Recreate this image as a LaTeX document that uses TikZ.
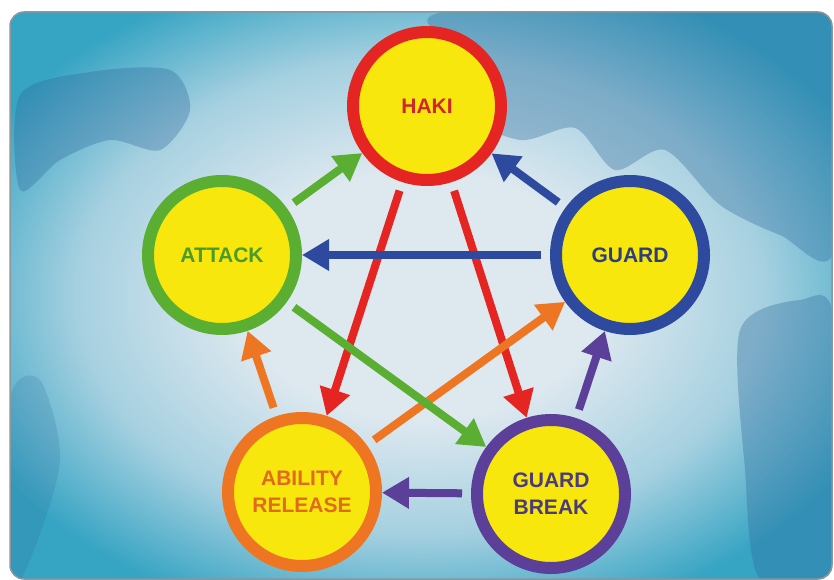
\documentclass[tikz,border=0pt]{standalone}
\usepackage{fontspec}
\setmainfont{Liberation Sans}
\usetikzlibrary{arrows.meta}

\definecolor{movefill}{HTML}{F7E70C}
\definecolor{hakiring}{HTML}{E52521}
\definecolor{hakitext}{HTML}{D0262A}
\definecolor{atkring}{HTML}{5AAE32}
\definecolor{atktext}{HTML}{4C9A2A}
\definecolor{guardring}{HTML}{2E4A9E}
\definecolor{guardtext}{HTML}{2C3E7E}
\definecolor{abilring}{HTML}{EE7623}
\definecolor{abiltext}{HTML}{E26A1E}
\definecolor{gbring}{HTML}{5B3F99}
\definecolor{gbtext}{HTML}{4A3A80}
\definecolor{mapin}{HTML}{DDE8EF}
\definecolor{mapmid}{HTML}{A5D0E0}
\definecolor{mapout}{HTML}{36A4C3}
\definecolor{mapdark}{HTML}{2F6A9C}
\definecolor{frameline}{HTML}{8A979C}

\pgfdeclareradialshading{mapshade}{\pgfpoint{0bp}{0bp}}{color(0bp)=(mapin); color(11bp)=(mapin); color(21bp)=(mapmid); color(30bp)=(mapout); color(50bp)=(mapout)}

\tikzset{
  move/.style={circle, draw, line width=12pt, fill=movefill, minimum size=148pt,
    inner sep=0pt, align=center, font=\bfseries\fontsize{21pt}{27pt}\selectfont},
  link/.style={line width=8pt, -{Triangle[width=30pt,length=27pt]}, shorten <=9pt},
  blob/.style={fill=mapdark, opacity=.35}
}

\begin{document}
\begin{tikzpicture}[x=1pt,y=-1pt]
    \useasboundingbox (0,0) rectangle (834,580);

    % Background map
    \fill[white] (0,0) rectangle (834,580);
    \shade[shading=mapshade, rounded corners=14pt] (10,12) rectangle (832,579);
    \begin{scope}
        \clip[rounded corners=14pt] (10,12) rectangle (832,579);
        \fill[blob] plot[smooth cycle] coordinates {(445,12) (470,60) (462,112) (520,140) (575,128) (615,170) (665,150) (720,205) (780,235) (834,250) (834,12)};
        \fill[blob] plot[smooth cycle] coordinates {(20,95) (90,72) (170,70) (190,110) (160,150) (110,140) (60,160) (20,190)};
        \fill[blob] plot[smooth cycle] coordinates {(740,330) (800,300) (834,320) (834,579) (760,579) (745,470)};
        \fill[blob, opacity=.2] plot[smooth cycle] coordinates {(10,400) (40,380) (60,460) (30,560) (10,579)};
    \end{scope}
    \draw[frameline, line width=1.5pt, rounded corners=14pt] (10,12) rectangle (832,579);

    % Moves
    \node[move, draw=hakiring, text=hakitext] (haki) at (427,106) {HAKI};
    \node[move, draw=atkring, text=atktext] (attack) at (222,255) {ATTACK};
    \node[move, draw=guardring, text=guardtext] (guard) at (630,255) {GUARD};
    \node[move, draw=abilring, text=abiltext] (ability) at (302,492) {ABILITY\\RELEASE};
    \node[move, draw=gbring, text=gbtext] (gbreak) at (551,494) {GUARD\\BREAK};

    % What beats what
    \draw[link, hakiring] (haki) -- (ability);
    \draw[link, hakiring] (haki) -- (gbreak);
    \draw[link, abilring] (ability) -- (attack);
    \draw[link, abilring] (ability) -- (guard);
    \draw[link, atkring] (attack) -- (haki);
    \draw[link, atkring] (attack) -- (gbreak);
    \draw[link, gbring] (gbreak) -- (guard);
    \draw[link, gbring] (gbreak) -- (ability);
    \draw[link, guardring] (guard) -- (haki);
    \draw[link, guardring] (guard) -- (attack);
\end{tikzpicture}
\end{document}
